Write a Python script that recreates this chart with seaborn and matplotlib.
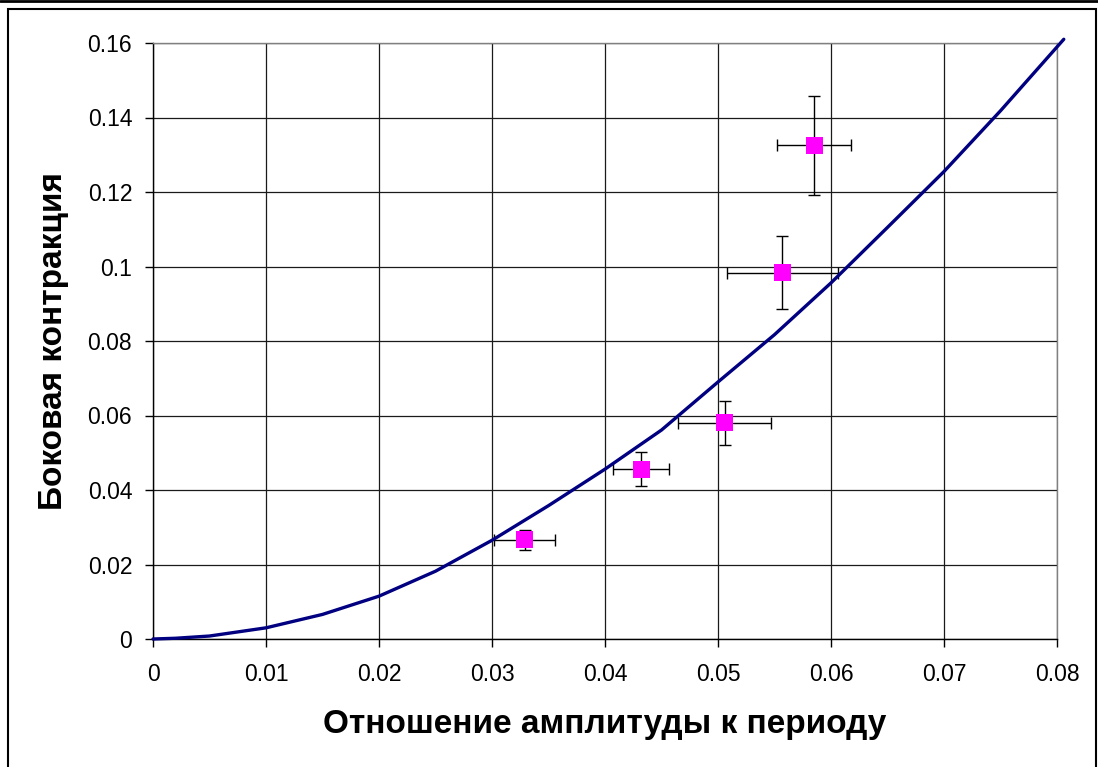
import numpy as np
import pandas as pd
import matplotlib
matplotlib.use("Agg")
import matplotlib.pyplot as plt
import seaborn as sns

# theory curve
curve_x = [0.0, 0.002, 0.005, 0.01, 0.015, 0.02, 0.025, 0.03, 0.035, 0.04,
           0.045, 0.05, 0.055, 0.06, 0.065, 0.07, 0.075, 0.0806]
curve_y = [0.0, 0.0002, 0.0008, 0.003, 0.0066, 0.0115, 0.0182, 0.0265, 0.0358, 0.0456,
           0.0561, 0.069, 0.0817, 0.0956, 0.1105, 0.1255, 0.1418, 0.161]

# measurements with error bars
meas_x = [0.0329, 0.0432, 0.0506, 0.0557, 0.0585]
meas_y = [0.0266, 0.0456, 0.0580, 0.0983, 0.1326]
meas_xerr = [0.0027, 0.0025, 0.0041, 0.0049, 0.0033]
meas_yerr = [0.0026, 0.0045, 0.0058, 0.0098, 0.0133]

x_ticks = [0, 0.01, 0.02, 0.03, 0.04, 0.05, 0.06, 0.07, 0.08]
x_labels = ["0", "0.01", "0.02", "0.03", "0.04", "0.05", "0.06", "0.07", "0.08"]
y_ticks = [0, 0.02, 0.04, 0.06, 0.08, 0.1, 0.12, 0.14, 0.16]
y_labels = ["0", "0.02", "0.04", "0.06", "0.08", "0.1", "0.12", "0.14", "0.16"]

sns.set_style("white")
plt.rcParams["font.family"] = ["Liberation Sans", "DejaVu Sans"]
plt.rcParams["text.color"] = "black"
plt.rcParams["axes.labelcolor"] = "black"

W, H = 1098, 767
fig = plt.figure(figsize=(W / 100, H / 100), dpi=100)
ax = fig.add_axes([153 / W, 1 - 639 / H, (1057 - 153) / W, (639 - 43) / H])

curve = pd.DataFrame({"x": curve_x, "y": curve_y})
meas = pd.DataFrame({"x": meas_x, "y": meas_y})

ax.errorbar(meas_x, meas_y, xerr=meas_xerr, yerr=meas_yerr, fmt="none",
            ecolor="black", elinewidth=1.0, capsize=4, capthick=1.0, zorder=3)
sns.lineplot(data=curve, x="x", y="y", ax=ax, color="#000080", linewidth=2.4,
             sort=False, estimator=None, zorder=4, clip_on=False)
sns.scatterplot(data=meas, x="x", y="y", ax=ax, marker="s", s=150,
                color="#FF00FF", edgecolor="none", zorder=5)

ax.set_xlim(0, 0.08)
ax.set_ylim(0, 0.16)
ax.set_xticks(x_ticks)
ax.set_xticklabels(x_labels)
ax.set_yticks(y_ticks)
ax.set_yticklabels(y_labels)
ax.grid(True, color="#1a1a1a", linewidth=0.9)
ax.set_axisbelow(True)

for side in ("left", "bottom"):
    ax.spines[side].set_color("black")
    ax.spines[side].set_linewidth(1.0)
for side in ("top", "right"):
    ax.spines[side].set_color("#808080")
    ax.spines[side].set_linewidth(1.0)

ax.tick_params(axis="both", direction="out", length=6, width=1.0, color="black",
               labelcolor="black", labelsize=16.5, bottom=True, left=True)
ax.tick_params(axis="y", pad=9)
ax.tick_params(axis="x", pad=11)

ax.set_xlabel("Отношение амплитуды к периоду", fontsize=24, fontweight="bold",
              va="center")
ax.set_ylabel("Боковая контракция", fontsize=24, fontweight="bold",
              va="center")
ax.xaxis.set_label_coords(0.5, (639 - 725) / 596)
ax.yaxis.set_label_coords((54 - 153) / 904, 0.5)

# chart frame
fig.patches.append(plt.Rectangle((8 / W, -0.01), (1096 - 8) / W, 1 - 9 / H + 0.01,
                                 transform=fig.transFigure, fill=False,
                                 edgecolor="black", linewidth=1.5))
fig.lines.append(plt.Line2D([0, 1], [1 - 0.5 / H, 1 - 0.5 / H],
                            transform=fig.transFigure, color="black", linewidth=2))

fig.savefig("out.png", dpi=100)
